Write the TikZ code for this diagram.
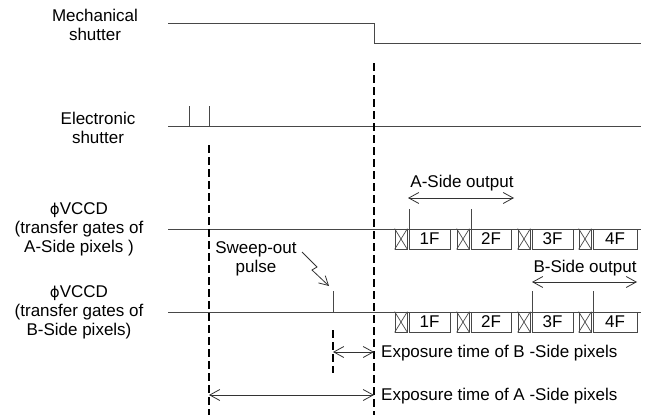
\documentclass[tikz,border=0pt]{standalone}
\usepackage{fontspec}
\setmainfont{Liberation Sans}
\newfontfamily\dejavu{DejaVu Sans}
\usetikzlibrary{arrows.meta}
\begin{document}
\begin{tikzpicture}[x=1pt,y=-1pt,
  every node/.style={font=\fontsize{17}{19}\selectfont, inner sep=0pt},
  sig/.style={line width=1pt, draw=black!72},
  guide/.style={line width=2pt, draw=black, dash pattern=on 8pt off 4pt},
  dimarrow/.style={line width=0.8pt, draw=black!80, {Straight Barb[length=10pt,width=11pt]}-{Straight Barb[length=10pt,width=11pt]}},
  onearrow/.style={line width=0.8pt, draw=black!80, -{Straight Barb[length=9pt,width=10pt]}},
  fbox/.style={draw=black!72, line width=0.8pt, minimum height=20, inner sep=0pt},
  xbox/.style={draw=black!72, line width=0.8pt, minimum height=20, minimum width=12},
  lbl/.style={align=center}
]
\useasboundingbox (0,0) rectangle (645,415);

% labels
\node[lbl] (lmech) at (95,25) {Mechanical\\shutter};
\node[lbl] (lelec) at (98,128) {Electronic\\shutter};
\node[lbl] (lva) at (79,229) {{\dejavu\fontsize{15}{19}\selectfont ϕ}VCCD\\(transfer gates of\\A-Side pixels )};
\node[lbl] (lvb) at (79,312) {{\dejavu\fontsize{15}{19}\selectfont ϕ}VCCD\\(transfer gates of\\B-Side pixels)};

% mechanical shutter
\coordinate (m0) at (168,23);
\coordinate (m1) at (374,23);
\coordinate (m2) at (374,43);
\coordinate (m3) at (641,43);
\draw[sig] (m0) -- (m1) -- (m2) -- (m3);

% electronic shutter
\coordinate (e0) at (168,126);
\coordinate (e1) at (641,126);
\draw[sig] (e0) -- (e1);
\coordinate (ep1) at (189,106);
\coordinate (ep1b) at (189,126);
\coordinate (ep2) at (209,106);
\coordinate (ep2b) at (209,126);
\draw[sig] (ep1) -- (ep1b);
\draw[sig] (ep2) -- (ep2b);

% VCCD A line
\coordinate (a0) at (168,229);
\coordinate (a1) at (641,229);
\draw[sig] (a0) -- (a1);
% VCCD B line
\coordinate (b0) at (168,312);
\coordinate (b1) at (641,312);
\draw[sig] (b0) -- (b1);

% boxes A row
\node[xbox] (xa1) at (401,239) {};
\node[fbox, minimum width=41] (fa1) at (429.5,239) {1F};
\node[xbox] (xa2) at (463,239) {};
\node[fbox, minimum width=40] (fa2) at (491,239) {2F};
\node[xbox] (xa3) at (524,239) {};
\node[fbox, minimum width=41] (fa3) at (552.5,239) {3F};
\node[xbox] (xa4) at (585,239) {};
\node[fbox, minimum width=44] (fa4) at (615,239) {4F};
% boxes B row
\node[xbox] (xb1) at (401,322) {};
\node[fbox, minimum width=41] (fb1) at (429.5,322) {1F};
\node[xbox] (xb2) at (463,322) {};
\node[fbox, minimum width=40] (fb2) at (491,322) {2F};
\node[xbox] (xb3) at (524,322) {};
\node[fbox, minimum width=41] (fb3) at (552.5,322) {3F};
\node[xbox] (xb4) at (585,322) {};
\node[fbox, minimum width=44] (fb4) at (615,322) {4F};
\foreach \n in {xa1,xa2,xa3,xa4,xb1,xb2,xb3,xb4}{
  \draw[draw=black!72, line width=0.7pt] (\n.north west) -- (\n.south east) (\n.north east) -- (\n.south west);
}

% pulses
\coordinate (pa1) at (409,209); \coordinate (pa1b) at (409,229);
\coordinate (pa2) at (471,209); \coordinate (pa2b) at (471,229);
\draw[sig] (pa1) -- (pa1b);
\draw[sig] (pa2) -- (pa2b);
\coordinate (pb1) at (532,291); \coordinate (pb1b) at (532,312);
\coordinate (pb2) at (593,291); \coordinate (pb2b) at (593,312);
\draw[sig] (pb1) -- (pb1b);
\draw[sig] (pb2) -- (pb2b);
\coordinate (sw) at (333,291); \coordinate (swb) at (333,312);
\draw[sig] (sw) -- (swb);

% output arrows
\coordinate (aoL) at (408,198); \coordinate (aoR) at (514,198);
\draw[dimarrow] (aoL) -- (aoR);
\node (aot) at (462,183) {A-Side output};
\coordinate (boL) at (532,282); \coordinate (boR) at (637,282);
\draw[dimarrow] (boL) -- (boR);
\node (bot) at (585,268) {B-Side output};

% sweep-out label
\node[lbl] (swt) at (256,259) {Sweep-out\\pulse};
\coordinate (z0) at (302,252);
\coordinate (z1) at (317,267);
\coordinate (z2) at (312,270);
\coordinate (z3) at (329,286);
\draw[onearrow] (z0) -- (z1) -- (z2) -- (z3);

% dashed guides
\coordinate (d1t) at (209,145); \coordinate (d1b) at (209,415);
\coordinate (d2t) at (374,63); \coordinate (d2b) at (374,415);
\coordinate (d3t) at (333,330); \coordinate (d3b) at (333,373);
\draw[guide] (d1t) -- (d1b);
\draw[guide] (d2t) -- (d2b);
\draw[guide] (d3t) -- (d3b);

% exposure arrows
\coordinate (ebL) at (333,352); \coordinate (ebR) at (374,352);
\draw[dimarrow] (ebL) -- (ebR);
\node[anchor=west] (ebt) at (381,353) {Exposure time of B -Side pixels};
\coordinate (eaL) at (209,395); \coordinate (eaR) at (374,395);
\draw[dimarrow] (eaL) -- (eaR);
\node[anchor=west] (eat) at (381,396) {Exposure time of A -Side pixels};
\end{tikzpicture}
\end{document}
